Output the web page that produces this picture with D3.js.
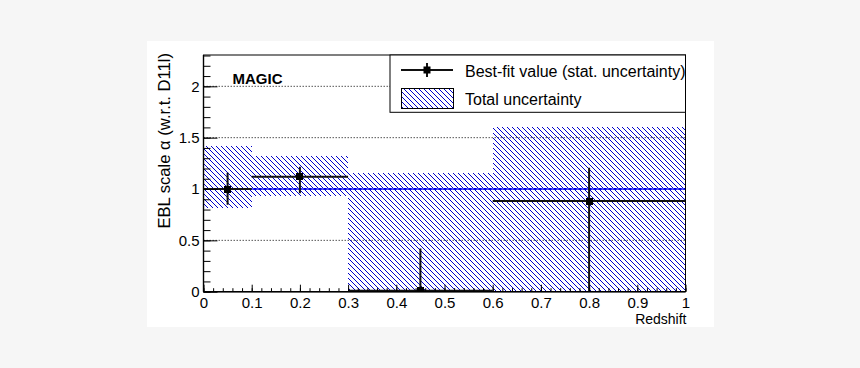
<!DOCTYPE html>
<html><head><meta charset="utf-8">
<script src="https://cdn.jsdelivr.net/npm/d3@7"></script>
<style>
body{margin:0;background:#f6f6f6;}
svg{display:block;font-family:"Liberation Sans",Arial,Helvetica,sans-serif;}
</style>
</head><body><svg id="c" width="860" height="368"></svg>
<script>
// ---- data ----
const binLo = [0, 0.1, 0.3, 0.6];
const binHi = [0.1, 0.3, 0.6, 1.0];
const xCenter = [0.05, 0.2, 0.45, 0.8];
const bestFit = [1.0, 1.12, 0.01, 0.883];
const statLow = [0.847, 0.958, 0.0, 0.0];
const statHigh = [1.159, 1.217, 0.42, 1.207];
const totalLow = [0.818, 0.935, 0.0, 0.0];
const totalHigh = [1.419, 1.324, 1.153, 1.60];
const referenceLevel = [1.0];
const xTickValues = [0, 0.1, 0.2, 0.3, 0.4, 0.5, 0.6, 0.7, 0.8, 0.9, 1];
const xTickLabels = ["0", "0.1", "0.2", "0.3", "0.4", "0.5", "0.6", "0.7", "0.8", "0.9", "1"];
const yTickValues = [0, 0.5, 1, 1.5, 2];
const yTickLabels = ["0", "0.5", "1", "1.5", "2"];
const gridY = [0.5, 1, 1.5, 2];
const legendLabels = ["Best-fit value (stat. uncertainty)", "Total uncertainty"];
const xTitle = "Redshift";
const yTitle = "EBL scale \u03b1 (w.r.t. D11l)";
const experimentLabel = "MAGIC";

// ---- layout ----
const svg = d3.select("#c");
const L = 203.5, R = 685.5, T = 55, B = 291.7;
const x = d3.scaleLinear().domain([0, 1]).range([L, R]);
const y = d3.scaleLinear().domain([0, 2.305]).range([B, T]);

// page panel
svg.append("rect").attr("x", 147).attr("y", 41).attr("width", 567).attr("height", 286).attr("fill", "#fff");

const defs = svg.append("defs");
const hw = 5;
const pat = defs.append("pattern").attr("id", "hatch").attr("patternUnits", "userSpaceOnUse")
  .attr("width", hw).attr("height", hw);
pat.selectAll("rect").data(d3.range(hw)).join("rect")
  .attr("x", d => d).attr("y", d => d).attr("width", 1).attr("height", 1)
  .attr("fill", "#0000cc").attr("shape-rendering", "crispEdges");
defs.append("clipPath").attr("id", "frameClip").append("rect")
  .attr("x", L).attr("y", T).attr("width", R - L).attr("height", B - T);
defs.append("clipPath").attr("id", "legClip").append("rect")
  .attr("x", 390).attr("y", 55).attr("width", 295.5).attr("height", 57.3);

// grid
svg.append("g").selectAll("line").data(gridY).join("line")
  .attr("x1", x(0)).attr("x2", x(1)).attr("y1", d => y(d)).attr("y2", d => y(d))
  .attr("stroke", "#555").attr("stroke-width", 1).attr("stroke-dasharray", "1.5,1.5");

const plot = svg.append("g").attr("clip-path", "url(#frameClip)");

// total uncertainty boxes
plot.append("g").selectAll("rect").data(binLo).join("rect")
  .attr("x", (d, i) => Math.round(x(binLo[i])))
  .attr("width", (d, i) => Math.round(x(binHi[i])) - Math.round(x(binLo[i])))
  .attr("y", (d, i) => Math.round(y(totalHigh[i])))
  .attr("height", (d, i) => Math.round(y(totalLow[i])) - Math.round(y(totalHigh[i])))
  .attr("fill", "url(#hatch)");

// reference line
plot.append("g").selectAll("line").data(referenceLevel).join("line")
  .attr("x1", x(0)).attr("x2", x(1)).attr("y1", d => y(d)).attr("y2", d => y(d))
  .attr("stroke", "#5a5aff").attr("stroke-width", 2);
plot.append("g").selectAll("line").data(referenceLevel).join("line")
  .attr("x1", x(0)).attr("x2", x(1)).attr("y1", d => y(d)).attr("y2", d => y(d))
  .attr("stroke", "#0000e0").attr("stroke-width", 2).attr("stroke-dasharray", "3,2");

// error bars
const eb = plot.append("g").attr("stroke", "#111").attr("stroke-width", 2);
eb.selectAll("line.h").data(binLo).join("line").attr("class", "h")
  .attr("x1", (d, i) => x(binLo[i])).attr("x2", (d, i) => x(binHi[i]))
  .attr("y1", (d, i) => y(bestFit[i])).attr("y2", (d, i) => y(bestFit[i]));
eb.selectAll("line.v").data(binLo).join("line").attr("class", "v")
  .attr("x1", (d, i) => x(xCenter[i])).attr("x2", (d, i) => x(xCenter[i]))
  .attr("y1", (d, i) => y(statLow[i])).attr("y2", (d, i) => y(statHigh[i]));
plot.append("g").selectAll("rect").data(xCenter).join("rect")
  .attr("x", d => x(d) - 3.5).attr("y", (d, i) => y(bestFit[i]) - 3.5)
  .attr("width", 7).attr("height", 7).attr("fill", "#000").attr("shape-rendering", "crispEdges");

// axes
function styleAxis(g) {
  g.select(".domain").remove();
  g.selectAll(".tick line").attr("stroke", "#000").attr("stroke-width", 1);
  g.selectAll(".tick text").attr("fill", "#000");
}
const xMinor = d3.range(0, 51).map(i => i / 50);
const yMinor = d3.range(0, 24).map(i => i / 10);
svg.append("g").attr("transform", `translate(0,${B})`)
  .call(d3.axisBottom(x).tickValues(xMinor).tickFormat("").tickSizeInner(-3.5).tickSizeOuter(0))
  .call(styleAxis);
svg.append("g").attr("transform", `translate(0,${B})`)
  .call(d3.axisBottom(x).tickValues(xTickValues).tickFormat((d, i) => xTickLabels[i]).tickSizeInner(-7).tickSizeOuter(0).tickPadding(6))
  .call(styleAxis)
  .call(g => g.selectAll("text").attr("font-size", 15).attr("font-family", "Liberation Sans, Arial, sans-serif"));
svg.append("g").attr("transform", `translate(${L},0)`)
  .call(d3.axisLeft(y).tickValues(yMinor).tickFormat("").tickSizeInner(-7).tickSizeOuter(0))
  .call(styleAxis);
svg.append("g").attr("transform", `translate(${L},0)`)
  .call(d3.axisLeft(y).tickValues(yTickValues).tickFormat((d, i) => yTickLabels[i]).tickSizeInner(-14).tickSizeOuter(0).tickPadding(4))
  .call(styleAxis)
  .call(g => g.selectAll("text").attr("font-size", 15).attr("font-family", "Liberation Sans, Arial, sans-serif"));

// frame
svg.append("rect").attr("x", L).attr("y", T).attr("width", R - L).attr("height", B - T)
  .attr("fill", "none").attr("stroke", "#000").attr("stroke-width", 1);
svg.append("line").attr("x1", L).attr("x2", R).attr("y1", B).attr("y2", B).attr("stroke", "#000").attr("stroke-width", 1.6);
svg.append("line").attr("x1", L).attr("x2", L).attr("y1", T).attr("y2", B).attr("stroke", "#000").attr("stroke-width", 1.4);

// titles
svg.append("text").attr("x", R + 1).attr("y", 324).attr("text-anchor", "end")
  .attr("font-size", 14).text(xTitle);
svg.append("text").attr("transform", "translate(170,53) rotate(-90)").attr("text-anchor", "end")
  .attr("font-size", 16.6).text(yTitle);
svg.append("text").attr("x", 232.5).attr("y", 83.5).attr("font-size", 15).attr("font-weight", "bold")
  .text(experimentLabel);

// legend
const leg = svg.append("g");
leg.append("rect").attr("x", 390).attr("y", 55).attr("width", 295.5).attr("height", 57.3)
  .attr("fill", "#fff").attr("stroke", "#000").attr("stroke-width", 1);
leg.append("line").attr("x1", 401).attr("x2", 453).attr("y1", 70).attr("y2", 70).attr("stroke", "#111").attr("stroke-width", 2);
leg.append("line").attr("x1", 427).attr("x2", 427).attr("y1", 63).attr("y2", 77).attr("stroke", "#111").attr("stroke-width", 2);
leg.append("rect").attr("x", 423.5).attr("y", 66.5).attr("width", 7).attr("height", 7).attr("fill", "#000");
leg.append("rect").attr("x", 401.5).attr("y", 88.5).attr("width", 52).attr("height", 20)
  .attr("fill", "url(#hatch)").attr("stroke", "#000").attr("stroke-width", 1);
const lt = leg.append("g").attr("clip-path", "url(#legClip)");
lt.selectAll("text").data(legendLabels).join("text")
  .attr("x", 465).attr("y", (d, i) => [76.7, 105][i]).attr("font-size", 16).text(d => d);
</script></body></html>
